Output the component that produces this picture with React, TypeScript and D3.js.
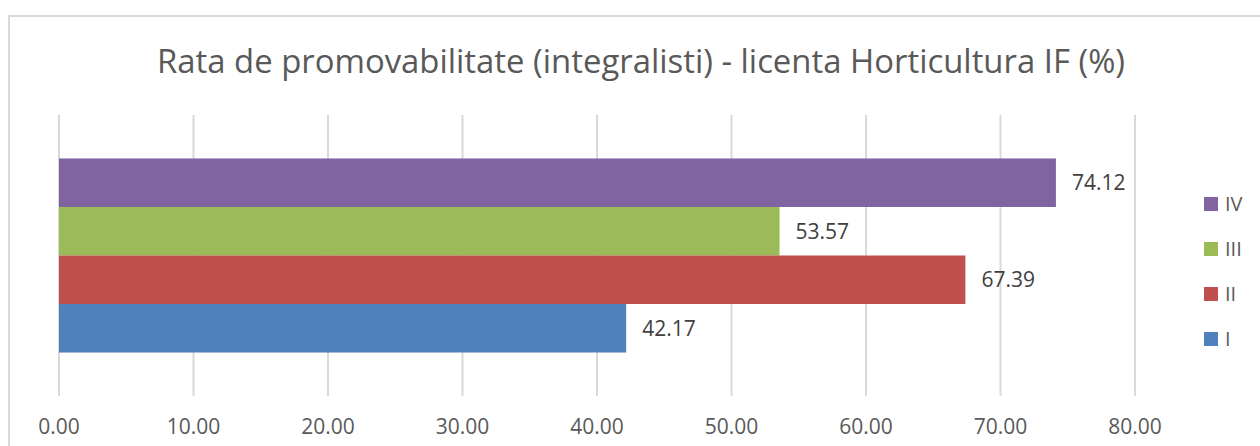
import React from "react";
import * as d3 from "d3";

const series = ["IV", "III", "II", "I"];
const values = [74.12, 53.57, 67.39, 42.17];
const colors = ["#8064A2", "#9BBB59", "#C0504D", "#4F81BD"];
const ticks = [0, 10, 20, 30, 40, 50, 60, 70, 80];
const title = "Rata de promovabilitate (integralisti) - licenta Horticultura IF (%)";

const W = 1260;
const H = 446;
const FONT = "'Open Sans', sans-serif";

export default function App() {
  const x = d3.scaleLinear().domain([0, 80]).range([59, 1135]);
  const plotTop = 115;
  const plotBottom = 396;
  const group = d3.scaleBand().domain(["g"]).range([plotTop, plotBottom]).paddingInner(0).paddingOuter(0.224);
  const y = d3
    .scaleBand()
    .domain(series)
    .range([group("g") as number, (group("g") as number) + group.bandwidth()])
    .padding(0);
  const legendY = d3.scalePoint().domain(series).range([204, 339]);

  return (
    <svg width={W} height={H} style={{ position: "absolute", left: 0, top: 0, background: "#fff" }}>
      <rect x={0} y={0} width={W} height={H} fill="#fff" />
      <rect x={9} y={16} width={1400} height={600} fill="none" stroke="#d9d9d9" strokeWidth={2} />
      <text
        x={641}
        y={73}
        textAnchor="middle"
        fontFamily={FONT}
        fontSize={32}
        fill="#595959"
        textLength={968}
        lengthAdjust="spacingAndGlyphs"
      >
        {title}
      </text>
      {ticks.map((t) => (
        <line key={"g" + t} x1={x(t)} x2={x(t)} y1={plotTop} y2={plotBottom} stroke="#d9d9d9" strokeWidth={2} />
      ))}
      {series.map((s, i) => (
        <rect key={s} x={x(0)} y={y(s)} width={x(values[i]) - x(0)} height={y.bandwidth()} fill={colors[i]} />
      ))}
      {series.map((s, i) => (
        <text
          key={"l" + s}
          x={x(values[i]) + 16}
          y={(y(s) as number) + y.bandwidth() / 2}
          dy="0.35em"
          fontFamily={FONT}
          fontSize={21}
          fill="#404040"
        >
          {values[i].toFixed(2)}
        </text>
      ))}
      {ticks.map((t) => (
        <text key={"t" + t} x={x(t)} y={434} textAnchor="middle" fontFamily={FONT} fontSize={21} fill="#595959">
          {t.toFixed(2)}
        </text>
      ))}
      {series.map((s, i) => (
        <g key={"lg" + s}>
          <rect x={1204} y={(legendY(s) as number) - 7} width={14} height={14} fill={colors[i]} />
          <text x={1225} y={legendY(s)} dy="0.35em" fontFamily={FONT} fontSize={20} fill="#595959">
            {s}
          </text>
        </g>
      ))}
    </svg>
  );
}
